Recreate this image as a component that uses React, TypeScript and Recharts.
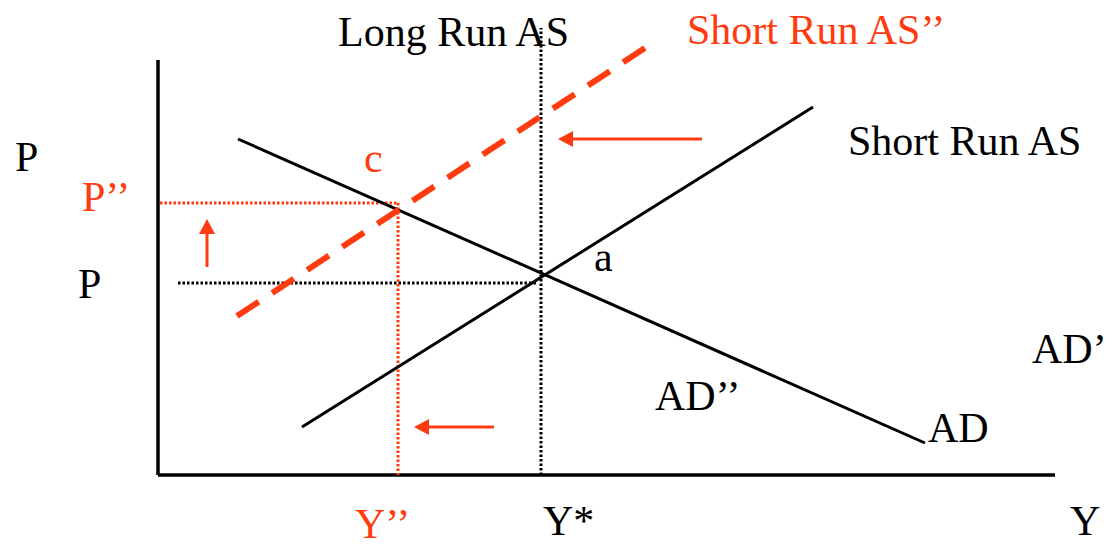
import React from 'react';
import { ComposedChart, Line, Scatter, XAxis, YAxis } from 'recharts';

const RED = '#FF3B0F';
const BLACK = '#000000';

// Data space: x = output (Y), y = price level (P); origin at the axes corner.
const axisYLine = [{ x: 0, y: 0 }, { x: 0, y: 41.5 }];
const axisXLine = [{ x: 0, y: 0 }, { x: 89.7, y: 0 }];
const longRunAS = [{ x: 38.3, y: 0 }, { x: 38.3, y: 44.7 }];
const shortRunAS = [{ x: 14.4, y: 4.8 }, { x: 65.5, y: 36.8 }];
const aggDemand = [{ x: 8.0, y: 33.6 }, { x: 76.7, y: 3.2 }];
const shortRunAS2 = [{ x: 7.9, y: 15.9 }, { x: 48.7, y: 42.7 }];
const pGuide = [{ x: 2.0, y: 19.2 }, { x: 38.0, y: 19.2 }];
const p2GuideH = [{ x: 0.2, y: 27.2 }, { x: 24.0, y: 27.2 }];
const p2GuideV = [{ x: 24.0, y: 27.2 }, { x: 24.0, y: 0 }];

const arrowUp = [{ x: 4.9, y: 20.8 }, { x: 4.9, y: 24.6 }];
const arrowLeftLow = [{ x: 33.6, y: 4.8 }, { x: 26.6, y: 4.8 }];
const arrowLeftHigh = [{ x: 54.4, y: 33.6 }, { x: 41.0, y: 33.6 }];
const arrowHeads = [
  { x: 4.9, y: 25.6, dir: 'up' },
  { x: 25.6, y: 4.8, dir: 'left' },
  { x: 40.0, y: 33.6, dir: 'left' },
];

const labels = [
  { x: 18.0, y: 42.9, text: 'Long Run AS', color: BLACK },
  { x: 52.9, y: 43.1, text: 'Short Run AS’’', color: RED },
  { x: 69.0, y: 32.0, text: 'Short Run AS', color: BLACK },
  { x: -14.3, y: 30.4, text: 'P', color: BLACK },
  { x: -7.6, y: 26.4, text: 'P’’', color: RED },
  { x: -8.0, y: 17.7, text: 'P', color: BLACK },
  { x: 20.6, y: 30.3, text: 'c', color: RED },
  { x: 43.6, y: 20.4, text: 'a', color: BLACK },
  { x: 87.4, y: 11.2, text: 'AD’', color: BLACK },
  { x: 49.7, y: 6.5, text: 'AD’’', color: BLACK },
  { x: 77.0, y: 3.3, text: 'AD', color: BLACK },
  { x: 19.7, y: -6.3, text: 'Y’’', color: RED },
  { x: 38.5, y: -6.0, text: 'Y*', color: BLACK },
  { x: 91.2, y: -6.0, text: 'Y', color: BLACK },
];

const ArrowHead = (props: any) => {
  const { cx, cy, payload } = props;
  const L = 15;
  const W = 8;
  let pts = '';
  if (payload.dir === 'up') {
    pts = `${cx},${cy} ${cx - W},${cy + L} ${cx + W},${cy + L}`;
  } else {
    pts = `${cx},${cy} ${cx + L},${cy - W} ${cx + L},${cy + W}`;
  }
  return <polygon points={pts} fill={RED} />;
};

const LabelText = (props: any) => {
  const { cx, cy, payload } = props;
  return (
    <text
      x={cx}
      y={cy}
      fill={payload.color}
      fontFamily="'Liberation Serif', 'Times New Roman', serif"
      fontSize={42}
      textAnchor="start"
    >
      {payload.text}
    </text>
  );
};

export default function App() {
  const seg = (data: any[], color: string, width: number, dash?: string) => (
    <Line
      data={data}
      dataKey="y"
      stroke={color}
      strokeWidth={width}
      strokeDasharray={dash}
      dot={false}
      activeDot={false}
      isAnimationActive={false}
      type="linear"
    />
  );
  return (
    <div style={{ position: 'absolute', left: 0, top: 0, width: 1109, height: 548, background: '#fff' }}>
      <ComposedChart width={1109} height={548} margin={{ top: 0, right: 0, bottom: 0, left: 0 }}>
        <XAxis dataKey="x" type="number" domain={[-15.8, 95.1]} allowDataOverflow hide />
        <YAxis dataKey="y" type="number" domain={[-7.3, 47.5]} allowDataOverflow hide />
        {seg(axisYLine, BLACK, 3.5)}
        {seg(axisXLine, BLACK, 3.5)}
        {seg(longRunAS, BLACK, 3, '2.5 2')}
        {seg(pGuide, BLACK, 3, '2.5 2')}
        {seg(p2GuideH, RED, 3, '2.5 2')}
        {seg(p2GuideV, RED, 3, '2.5 2')}
        {seg(shortRunAS, BLACK, 3)}
        {seg(aggDemand, BLACK, 3)}
        {seg(shortRunAS2, RED, 6, '26 16')}
        {seg(arrowUp, RED, 3)}
        {seg(arrowLeftLow, RED, 3)}
        {seg(arrowLeftHigh, RED, 3)}
        <Scatter data={arrowHeads} shape={ArrowHead} isAnimationActive={false} />
        <Scatter data={labels} shape={LabelText} isAnimationActive={false} />
      </ComposedChart>
    </div>
  );
}
